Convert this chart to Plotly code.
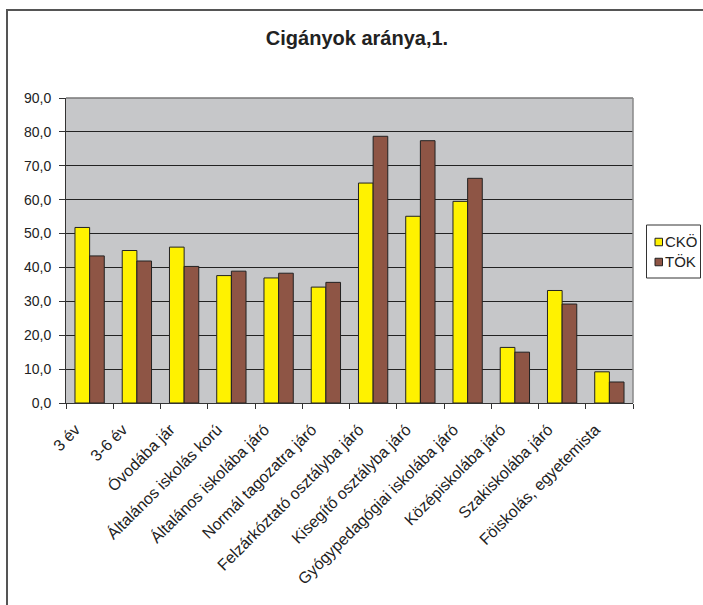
import plotly.graph_objects as go

categories = ["3 év", "3-6 év", "Óvodába jár", "Általános iskolás korú",
              "Általános iskolába járó", "Normál tagozatra járó",
              "Felzárkóztató osztályba járó", "Kisegítő osztályba járó",
              "Gyógypedagógiai iskolába járó", "Középiskolába járó",
              "Szakiskolába járó", "Föiskolás, egyetemista"]
cko = [51.8, 45.0, 46.0, 37.6, 36.9, 34.2, 64.9, 55.1, 59.5, 16.4, 33.2, 9.2]
tok = [43.4, 41.9, 40.3, 38.9, 38.3, 35.6, 78.7, 77.4, 66.3, 15.0, 29.2, 6.2]
series_names = ["CKÖ", "TÖK"]
yticks = [0, 10, 20, 30, 40, 50, 60, 70, 80, 90]
colors = ["#FFF200", "#8E5545"]

W, H = 703, 605
OFF = 0  # page body margin removed via post_script
L, R, T, B = 66 - OFF, 633 - OFF, 98 - OFF, 403 - OFF
pw = R - L
ph = B - T


def px(x):  # page pixel x -> paper
    return (x - OFF - L) / pw


def py(y):  # page pixel y -> paper
    return (B - (y - OFF)) / ph


fig = go.Figure()
fig.add_trace(go.Bar(x=categories, y=cko, name=series_names[0], showlegend=False,
                     marker=dict(color=colors[0], line=dict(color="#222222", width=1))))
fig.add_trace(go.Bar(x=categories, y=tok, name=series_names[1], showlegend=False,
                     marker=dict(color=colors[1], line=dict(color="#222222", width=1))))

shapes = [
    # outer frame
    dict(type="rect", xref="paper", yref="paper",
         x0=px(7), x1=px(760), y0=py(700), y1=py(10),
         line=dict(color="#555555", width=2), layer="below"),
    # plot area border top/right
    dict(type="line", xref="paper", yref="paper", x0=0, x1=1, y0=1, y1=1,
         line=dict(color="#777777", width=1.5)),
    dict(type="line", xref="paper", yref="paper", x0=1, x1=1, y0=0, y1=1,
         line=dict(color="#888888", width=1.5)),
    # legend box
    dict(type="rect", xref="paper", yref="paper",
         x0=px(646.5), x1=px(700.5), y0=py(278), y1=py(225),
         line=dict(color="#333333", width=1), fillcolor="white"),
]
annotations = []
leg_y = [242, 262]
for i, name in enumerate(series_names):
    yc = leg_y[i]
    shapes.append(dict(type="rect", xref="paper", yref="paper",
                       x0=px(655), x1=px(662.5), y0=py(yc + 3.75), y1=py(yc - 3.75),
                       line=dict(color="#222222", width=1), fillcolor=colors[i]))
    annotations.append(dict(text=name, xref="paper", yref="paper", x=px(663), y=py(yc - 1),
                            xanchor="left", yanchor="middle", showarrow=False,
                            font=dict(size=15, color="#222222")))

fig.update_layout(
    width=W, height=H,
    margin=dict(l=L, r=W - R, t=T, b=H - B, pad=0),
    paper_bgcolor="white",
    plot_bgcolor="#C6C7C9",
    barmode="group",
    bargap=0.38,
    bargroupgap=0,
    separators=", ",
    font=dict(family="Liberation Sans, Arial", color="#222222"),
    title=dict(text="<b>Cigányok aránya,1.</b>", x=(357 - OFF - L) / pw, xref="paper",
               xanchor="center", y=1 - (38 - OFF) / H, yanchor="middle",
               font=dict(size=20, color="#222222")),
    showlegend=False,
    xaxis=dict(tickangle=-45, ticks="outside", tickson="boundaries", ticklen=5,
               tickcolor="#333333", showline=True, linecolor="#333333", linewidth=1,
               ticklabelshift=-14, ticklabelstandoff=10,
               tickfont=dict(size=16, color="#222222"), showgrid=False,
               automargin=False),
    yaxis=dict(range=[0, 90], tickvals=yticks, tickformat=".1f",
               ticks="outside", ticklen=6, tickcolor="#333333",
               ticklabelstandoff=5,
               showline=True, linecolor="#333333", linewidth=1,
               showgrid=True, gridcolor="#222222", gridwidth=1,
               tickfont=dict(size=14, color="#222222"), zeroline=False,
               automargin=False),
    shapes=shapes,
    annotations=annotations,
)

fig.write_html("out.html", config={"displayModeBar": False},
               post_script="document.body.style.margin='0';document.body.style.overflow='hidden';")
